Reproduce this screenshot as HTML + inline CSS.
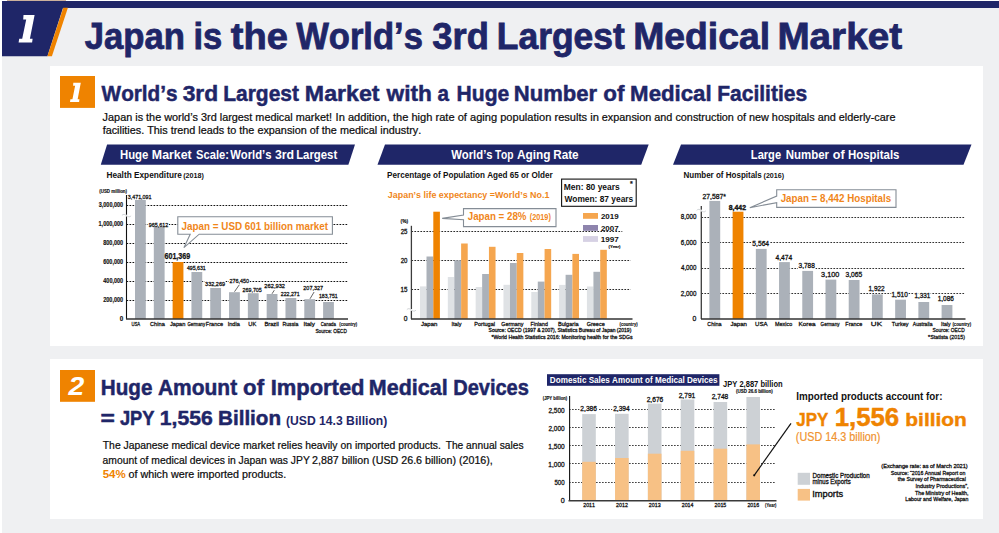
<!DOCTYPE html>
<html><head><meta charset="utf-8"><title>Japan is the World's 3rd Largest Medical Market</title>
<style>
html,body{margin:0;padding:0;background:#fff;width:999px;height:533px;overflow:hidden}
svg{display:block;font-family:"Liberation Sans", sans-serif;font-kerning:none}
</style></head><body>
<svg width="999" height="533" viewBox="0 0 999 533">
<rect x="0.00" y="0.00" width="999.00" height="533.00" fill="#ffffff"/>
<rect x="2.00" y="8.00" width="997.00" height="525.00" fill="#eff0f2"/>
<rect x="7.00" y="0.00" width="59.00" height="1.00" fill="#cbb09c"/>
<rect x="2.00" y="1.00" width="997.00" height="7.00" fill="#1f2668"/>
<polygon points="2.00,7.00 63.30,7.00 47.40,56.30 2.00,56.30" fill="#1f2668"/>
<polygon points="63.30,7.70 67.90,7.70 51.90,56.30 47.40,56.30" fill="#ef8300"/>
<polygon points="23.50,15.10 34.60,15.10 29.90,38.80 32.60,38.80 32.10,42.60 18.60,42.60 19.20,38.80 22.20,38.80 26.20,19.40 23.20,19.40" fill="#fff"/>
<text x="84.67" y="49.00" font-size="36.5" stroke="#1f2668" stroke-width="0.8" font-weight="bold" fill="#1f2668" textLength="100.28" lengthAdjust="spacingAndGlyphs">Japan</text>
<text x="193.39" y="49.00" font-size="36.5" stroke="#1f2668" stroke-width="0.8" font-weight="bold" fill="#1f2668" textLength="28.83" lengthAdjust="spacingAndGlyphs">is</text>
<text x="230.73" y="49.00" font-size="36.5" stroke="#1f2668" stroke-width="0.8" font-weight="bold" fill="#1f2668" textLength="57.17" lengthAdjust="spacingAndGlyphs">the</text>
<text x="296.17" y="49.00" font-size="36.5" stroke="#1f2668" stroke-width="0.8" font-weight="bold" fill="#1f2668" textLength="126.75" lengthAdjust="spacingAndGlyphs">World’s</text>
<text x="432.37" y="49.00" font-size="36.5" stroke="#1f2668" stroke-width="0.8" font-weight="bold" fill="#1f2668" textLength="56.53" lengthAdjust="spacingAndGlyphs">3rd</text>
<text x="496.83" y="49.00" font-size="36.5" stroke="#1f2668" stroke-width="0.8" font-weight="bold" fill="#1f2668" textLength="128.00" lengthAdjust="spacingAndGlyphs">Largest</text>
<text x="633.20" y="49.00" font-size="36.5" stroke="#1f2668" stroke-width="0.8" font-weight="bold" fill="#1f2668" textLength="136.84" lengthAdjust="spacingAndGlyphs">Medical</text>
<text x="777.41" y="49.00" font-size="36.5" stroke="#1f2668" stroke-width="0.8" font-weight="bold" fill="#1f2668" textLength="124.66" lengthAdjust="spacingAndGlyphs">Market</text>
<rect x="50.00" y="66.00" width="933.00" height="280.00" fill="#ffffff"/>
<rect x="60.00" y="76.00" width="35.00" height="31.90" fill="#ef8300"/>
<polygon points="73.31,82.80 80.80,82.80 77.63,99.35 79.45,99.35 79.11,102.00 70.00,102.00 70.41,99.35 72.43,99.35 75.13,85.80 73.11,85.80" fill="#fff"/>
<text x="101.58" y="100.50" font-size="22.3" stroke="#1f2668" stroke-width="0.5" font-weight="bold" fill="#1f2668" textLength="75.97" lengthAdjust="spacingAndGlyphs">World’s</text>
<text x="182.68" y="100.50" font-size="22.3" stroke="#1f2668" stroke-width="0.5" font-weight="bold" fill="#1f2668" textLength="35.53" lengthAdjust="spacingAndGlyphs">3rd</text>
<text x="223.20" y="100.50" font-size="22.3" stroke="#1f2668" stroke-width="0.5" font-weight="bold" fill="#1f2668" textLength="75.76" lengthAdjust="spacingAndGlyphs">Largest</text>
<text x="304.85" y="100.50" font-size="22.3" stroke="#1f2668" stroke-width="0.5" font-weight="bold" fill="#1f2668" textLength="74.73" lengthAdjust="spacingAndGlyphs">Market</text>
<text x="386.57" y="100.50" font-size="22.3" stroke="#1f2668" stroke-width="0.5" font-weight="bold" fill="#1f2668" textLength="45.34" lengthAdjust="spacingAndGlyphs">with</text>
<text x="437.40" y="100.50" font-size="22.3" stroke="#1f2668" stroke-width="0.5" font-weight="bold" fill="#1f2668" textLength="11.47" lengthAdjust="spacingAndGlyphs">a</text>
<text x="456.59" y="100.50" font-size="22.3" stroke="#1f2668" stroke-width="0.5" font-weight="bold" fill="#1f2668" textLength="52.63" lengthAdjust="spacingAndGlyphs">Huge</text>
<text x="513.83" y="100.50" font-size="22.3" stroke="#1f2668" stroke-width="0.5" font-weight="bold" fill="#1f2668" textLength="83.31" lengthAdjust="spacingAndGlyphs">Number</text>
<text x="603.23" y="100.50" font-size="22.3" stroke="#1f2668" stroke-width="0.5" font-weight="bold" fill="#1f2668" textLength="21.13" lengthAdjust="spacingAndGlyphs">of</text>
<text x="630.11" y="100.50" font-size="22.3" stroke="#1f2668" stroke-width="0.5" font-weight="bold" fill="#1f2668" textLength="81.56" lengthAdjust="spacingAndGlyphs">Medical</text>
<text x="717.19" y="100.50" font-size="22.3" stroke="#1f2668" stroke-width="0.5" font-weight="bold" fill="#1f2668" textLength="89.97" lengthAdjust="spacingAndGlyphs">Facilities</text>
<text x="102.63" y="120.90" font-size="10.8" stroke="#0d0d0d" stroke-width="0.22" fill="#0d0d0d" textLength="229.36" lengthAdjust="spacingAndGlyphs">Japan is the world’s 3rd largest medical market!</text>
<text x="335.58" y="120.90" font-size="10.8" stroke="#0d0d0d" stroke-width="0.22" fill="#0d0d0d" textLength="263.24" lengthAdjust="spacingAndGlyphs">In addition, the high rate of aging population results in</text>
<text x="601.84" y="120.90" font-size="10.8" stroke="#0d0d0d" stroke-width="0.22" fill="#0d0d0d" textLength="293.64" lengthAdjust="spacingAndGlyphs">expansion and construction of new hospitals and elderly-care</text>
<text x="102.65" y="134.40" font-size="10.8" stroke="#0d0d0d" stroke-width="0.22" fill="#0d0d0d" textLength="318.54" lengthAdjust="spacingAndGlyphs">facilities. This trend leads to the expansion of the medical industry.</text>
<polygon points="107.10,144.60 355.00,144.60 348.40,164.80 100.80,164.80" fill="#1f2668"/>
<text x="119.99" y="158.90" font-size="12.3" font-weight="bold" fill="#fff" textLength="28.40" lengthAdjust="spacingAndGlyphs">Huge</text>
<text x="151.87" y="158.90" font-size="12.3" font-weight="bold" fill="#fff" textLength="39.88" lengthAdjust="spacingAndGlyphs">Market</text>
<text x="196.08" y="158.90" font-size="12.3" font-weight="bold" fill="#fff" textLength="32.90" lengthAdjust="spacingAndGlyphs">Scale:</text>
<text x="230.19" y="158.90" font-size="12.3" font-weight="bold" fill="#fff" textLength="41.27" lengthAdjust="spacingAndGlyphs">World’s</text>
<text x="274.92" y="158.90" font-size="12.3" font-weight="bold" fill="#fff" textLength="19.20" lengthAdjust="spacingAndGlyphs">3rd</text>
<text x="296.14" y="158.90" font-size="12.3" font-weight="bold" fill="#fff" textLength="41.10" lengthAdjust="spacingAndGlyphs">Largest</text>
<polygon points="385.00,144.50 648.70,144.50 641.20,164.70 377.50,164.70" fill="#1f2668"/>
<text x="451.19" y="158.90" font-size="12.3" font-weight="bold" fill="#fff" textLength="41.37" lengthAdjust="spacingAndGlyphs">World’s</text>
<text x="494.89" y="158.90" font-size="12.3" font-weight="bold" fill="#fff" textLength="18.73" lengthAdjust="spacingAndGlyphs">Top</text>
<text x="517.00" y="158.90" font-size="12.3" font-weight="bold" fill="#fff" textLength="33.59" lengthAdjust="spacingAndGlyphs">Aging</text>
<text x="553.22" y="158.90" font-size="12.3" font-weight="bold" fill="#fff" textLength="25.38" lengthAdjust="spacingAndGlyphs">Rate</text>
<polygon points="681.00,144.40 971.50,144.40 963.50,164.70 673.00,164.70" fill="#1f2668"/>
<text x="750.86" y="158.80" font-size="12.3" font-weight="bold" fill="#fff" textLength="30.22" lengthAdjust="spacingAndGlyphs">Large</text>
<text x="785.73" y="158.80" font-size="12.3" font-weight="bold" fill="#fff" textLength="43.34" lengthAdjust="spacingAndGlyphs">Number</text>
<text x="832.71" y="158.80" font-size="12.3" font-weight="bold" fill="#fff" textLength="11.87" lengthAdjust="spacingAndGlyphs">of</text>
<text x="848.04" y="158.80" font-size="12.3" font-weight="bold" fill="#fff" textLength="51.43" lengthAdjust="spacingAndGlyphs">Hospitals</text>
<text x="106.45" y="177.80" font-size="8.8" font-weight="bold" fill="#111" textLength="75.34" lengthAdjust="spacingAndGlyphs">Health Expenditure</text>
<text x="183.14" y="177.80" font-size="7.2" font-weight="bold" fill="#111" textLength="20.71" lengthAdjust="spacingAndGlyphs">(2018)</text>
<text x="99.28" y="193.00" font-size="5.2" stroke="#111" stroke-width="0.15" font-weight="bold" fill="#111" textLength="27.74" lengthAdjust="spacingAndGlyphs">(USD million)</text>
<line x1="126.50" y1="205.50" x2="348.00" y2="205.50" stroke="#111" stroke-width="1.0" stroke-dasharray="1.7 1.3"/>
<line x1="126.50" y1="224.50" x2="348.00" y2="224.50" stroke="#111" stroke-width="1.0" stroke-dasharray="1.7 1.3"/>
<line x1="126.50" y1="243.50" x2="348.00" y2="243.50" stroke="#111" stroke-width="1.0" stroke-dasharray="1.7 1.3"/>
<line x1="126.50" y1="262.50" x2="348.00" y2="262.50" stroke="#111" stroke-width="1.0" stroke-dasharray="1.7 1.3"/>
<line x1="126.50" y1="281.50" x2="348.00" y2="281.50" stroke="#111" stroke-width="1.0" stroke-dasharray="1.7 1.3"/>
<line x1="126.50" y1="300.50" x2="348.00" y2="300.50" stroke="#111" stroke-width="1.0" stroke-dasharray="1.7 1.3"/>
<text x="98.77" y="207.20" font-size="6.6" stroke="#111" stroke-width="0.15" font-weight="bold" fill="#111" textLength="24.35" lengthAdjust="spacingAndGlyphs">3,000,000</text>
<text x="98.55" y="226.20" font-size="6.6" stroke="#111" stroke-width="0.15" font-weight="bold" fill="#111" textLength="24.57" lengthAdjust="spacingAndGlyphs">1,000,000</text>
<text x="103.23" y="245.20" font-size="6.6" stroke="#111" stroke-width="0.15" font-weight="bold" fill="#111" textLength="19.90" lengthAdjust="spacingAndGlyphs">800,000</text>
<text x="103.20" y="264.20" font-size="6.6" stroke="#111" stroke-width="0.15" font-weight="bold" fill="#111" textLength="19.93" lengthAdjust="spacingAndGlyphs">600,000</text>
<text x="103.32" y="283.20" font-size="6.6" stroke="#111" stroke-width="0.15" font-weight="bold" fill="#111" textLength="19.81" lengthAdjust="spacingAndGlyphs">400,000</text>
<text x="103.21" y="302.20" font-size="6.6" stroke="#111" stroke-width="0.15" font-weight="bold" fill="#111" textLength="19.92" lengthAdjust="spacingAndGlyphs">200,000</text>
<text x="119.65" y="321.20" font-size="6.6" stroke="#111" stroke-width="0.15" font-weight="bold" fill="#111" textLength="3.51" lengthAdjust="spacingAndGlyphs">0</text>
<rect x="135.00" y="200.00" width="10.80" height="119.00" fill="#abb1b9"/>
<rect x="153.81" y="227.00" width="10.80" height="92.00" fill="#abb1b9"/>
<rect x="172.62" y="262.00" width="10.80" height="57.00" fill="#ef8300"/>
<rect x="191.43" y="272.00" width="10.80" height="47.00" fill="#abb1b9"/>
<rect x="210.24" y="288.00" width="10.80" height="31.00" fill="#abb1b9"/>
<rect x="229.05" y="292.20" width="10.80" height="26.80" fill="#abb1b9"/>
<rect x="247.86" y="293.20" width="10.80" height="25.80" fill="#abb1b9"/>
<rect x="266.67" y="294.00" width="10.80" height="25.00" fill="#abb1b9"/>
<rect x="285.48" y="298.00" width="10.80" height="21.00" fill="#abb1b9"/>
<rect x="304.29" y="299.20" width="10.80" height="19.80" fill="#abb1b9"/>
<rect x="323.10" y="302.00" width="10.80" height="17.00" fill="#abb1b9"/>
<rect x="148.00" y="221.50" width="21.00" height="5.00" fill="#fff"/>
<rect x="228.90" y="278.60" width="20.80" height="5.00" fill="#fff"/>
<rect x="204.50" y="280.00" width="21.00" height="3.00" fill="#fff"/>
<text x="127.70" y="198.90" font-size="6.2" stroke="#111" stroke-width="0.28" fill="#111" textLength="23.87" lengthAdjust="spacingAndGlyphs">3,471,091</text>
<text x="148.65" y="227.00" font-size="6.2" stroke="#111" stroke-width="0.28" fill="#111" textLength="19.52" lengthAdjust="spacingAndGlyphs">965,612</text>
<text x="186.88" y="270.20" font-size="6.2" stroke="#111" stroke-width="0.28" fill="#111" textLength="18.87" lengthAdjust="spacingAndGlyphs">495,631</text>
<text x="205.09" y="285.60" font-size="6.2" stroke="#111" stroke-width="0.28" fill="#111" textLength="19.97" lengthAdjust="spacingAndGlyphs">332,269</text>
<text x="229.43" y="282.70" font-size="6.2" stroke="#111" stroke-width="0.28" fill="#111" textLength="19.58" lengthAdjust="spacingAndGlyphs">276,450</text>
<text x="242.53" y="291.70" font-size="6.2" stroke="#111" stroke-width="0.28" fill="#111" textLength="19.29" lengthAdjust="spacingAndGlyphs">269,705</text>
<text x="264.31" y="287.50" font-size="6.2" stroke="#111" stroke-width="0.28" fill="#111" textLength="20.78" lengthAdjust="spacingAndGlyphs">262,932</text>
<text x="280.74" y="295.50" font-size="6.2" stroke="#111" stroke-width="0.28" fill="#111" textLength="18.92" lengthAdjust="spacingAndGlyphs">222,271</text>
<text x="303.33" y="289.50" font-size="6.2" stroke="#111" stroke-width="0.28" fill="#111" textLength="19.75" lengthAdjust="spacingAndGlyphs">207,327</text>
<text x="319.01" y="297.70" font-size="6.2" stroke="#111" stroke-width="0.28" fill="#111" textLength="18.64" lengthAdjust="spacingAndGlyphs">183,751</text>
<text x="164.44" y="258.60" font-size="8.2" stroke="#111" stroke-width="0.25" font-weight="bold" fill="#111" textLength="25.83" lengthAdjust="spacingAndGlyphs">601,369</text>
<line x1="234.50" y1="291.70" x2="239.30" y2="284.80" stroke="#222" stroke-width="0.7"/>
<line x1="272.00" y1="293.80" x2="274.30" y2="290.20" stroke="#222" stroke-width="0.7"/>
<line x1="310.00" y1="298.80" x2="314.10" y2="292.00" stroke="#222" stroke-width="0.7"/>
<line x1="126.50" y1="195.00" x2="126.50" y2="319.00" stroke="#111" stroke-width="1.1"/>
<rect x="125.30" y="214.70" width="2.40" height="1.80" fill="#fff"/>
<path d="M121.90,215.40 C123.30,213.60 124.90,214.40 126.50,215.60 S129.70,217.60 131.10,215.80" stroke="#cdd0d4" stroke-width="0.9" fill="none"/>
<line x1="126.00" y1="319.00" x2="348.00" y2="319.00" stroke="#333" stroke-width="1.5"/>
<text x="131.47" y="325.80" font-size="6.0" stroke="#111" stroke-width="0.28" fill="#111" textLength="8.74" lengthAdjust="spacingAndGlyphs">USA</text>
<text x="150.01" y="325.80" font-size="6.0" stroke="#111" stroke-width="0.28" fill="#111" textLength="14.79" lengthAdjust="spacingAndGlyphs">China</text>
<text x="169.91" y="325.80" font-size="6.0" stroke="#111" stroke-width="0.28" fill="#111" textLength="15.46" lengthAdjust="spacingAndGlyphs">Japan</text>
<text x="187.38" y="325.80" font-size="6.0" stroke="#111" stroke-width="0.28" fill="#111" textLength="17.83" lengthAdjust="spacingAndGlyphs">Germany</text>
<text x="205.85" y="325.80" font-size="6.0" stroke="#111" stroke-width="0.28" fill="#111" textLength="17.20" lengthAdjust="spacingAndGlyphs">France</text>
<text x="227.68" y="325.80" font-size="6.0" stroke="#111" stroke-width="0.28" fill="#111" textLength="12.12" lengthAdjust="spacingAndGlyphs">India</text>
<text x="248.36" y="325.80" font-size="6.0" stroke="#111" stroke-width="0.28" fill="#111" textLength="8.01" lengthAdjust="spacingAndGlyphs">UK</text>
<text x="264.43" y="325.80" font-size="6.0" stroke="#111" stroke-width="0.28" fill="#111" textLength="14.35" lengthAdjust="spacingAndGlyphs">Brazil</text>
<text x="282.48" y="325.80" font-size="6.0" stroke="#111" stroke-width="0.28" fill="#111" textLength="15.82" lengthAdjust="spacingAndGlyphs">Russia</text>
<text x="303.42" y="325.80" font-size="6.0" stroke="#111" stroke-width="0.28" fill="#111" textLength="11.49" lengthAdjust="spacingAndGlyphs">Italy</text>
<text x="320.68" y="325.80" font-size="6.0" stroke="#111" stroke-width="0.28" fill="#111" textLength="15.22" lengthAdjust="spacingAndGlyphs">Canada</text>
<text x="339.29" y="325.80" font-size="5.0" stroke="#111" stroke-width="0.15" font-weight="bold" fill="#111" textLength="17.91" lengthAdjust="spacingAndGlyphs">(country)</text>
<text x="315.38" y="332.80" font-size="6.0" stroke="#111" stroke-width="0.28" fill="#111" textLength="31.65" lengthAdjust="spacingAndGlyphs">Source: OECD</text>
<path d="M177.8,216.7 H332.4 V234.2 H199.2 L183.9,247.7 L190.2,234.2 H177.8 Z" fill="#fff" stroke="#858d96" stroke-width="1.1"/>
<text x="181.55" y="229.90" font-size="11.2" font-weight="bold" fill="#f0861a" textLength="146.57" lengthAdjust="spacingAndGlyphs">Japan = USD 601 billion market</text>
<text x="387.06" y="177.60" font-size="8.8" font-weight="bold" fill="#111" textLength="165.67" lengthAdjust="spacingAndGlyphs">Percentage of Population Aged 65 or Older</text>
<text x="387.87" y="197.50" font-size="9.4" font-weight="bold" fill="#f0861a" textLength="161.48" lengthAdjust="spacingAndGlyphs">Japan’s life expectancy =World’s No.1</text>
<rect x="561.60" y="179.10" width="74.60" height="27.20" fill="#fff" stroke="#111" stroke-width="1.1"/>
<text x="563.83" y="189.50" font-size="9.0" font-weight="bold" fill="#111" textLength="55.91" lengthAdjust="spacingAndGlyphs">Men: 80 years</text>
<text x="564.39" y="201.60" font-size="9.0" font-weight="bold" fill="#111" textLength="68.85" lengthAdjust="spacingAndGlyphs">Women: 87 years</text>
<text x="630.00" y="186.00" font-size="7.0" stroke="#111" stroke-width="0.15" font-weight="bold" fill="#111">*</text>
<line x1="411.40" y1="231.50" x2="622.30" y2="231.50" stroke="#2a2a2a" stroke-width="1.0" stroke-dasharray="1.7 1.3"/>
<line x1="411.40" y1="260.50" x2="630.60" y2="260.50" stroke="#2a2a2a" stroke-width="1.0" stroke-dasharray="1.7 1.3"/>
<line x1="411.40" y1="289.50" x2="630.60" y2="289.50" stroke="#2a2a2a" stroke-width="1.0" stroke-dasharray="1.7 1.3"/>
<text x="400.69" y="233.50" font-size="6.4" stroke="#111" stroke-width="0.28" fill="#111" textLength="6.76" lengthAdjust="spacingAndGlyphs">25</text>
<text x="400.70" y="262.50" font-size="6.4" stroke="#111" stroke-width="0.28" fill="#111" textLength="6.74" lengthAdjust="spacingAndGlyphs">20</text>
<text x="400.52" y="291.90" font-size="6.4" stroke="#111" stroke-width="0.28" fill="#111" textLength="6.94" lengthAdjust="spacingAndGlyphs">15</text>
<text x="403.74" y="321.10" font-size="6.4" stroke="#111" stroke-width="0.28" fill="#111" textLength="3.72" lengthAdjust="spacingAndGlyphs">0</text>
<text x="400.56" y="223.00" font-size="5.0" stroke="#111" stroke-width="0.15" font-weight="bold" fill="#111" textLength="7.48" lengthAdjust="spacingAndGlyphs">(%)</text>
<rect x="420.00" y="286.40" width="6.50" height="32.50" fill="#dfe2e5"/>
<rect x="426.50" y="256.50" width="6.80" height="62.40" fill="#abb1b9"/>
<rect x="433.30" y="211.70" width="6.60" height="107.20" fill="#ef8300"/>
<rect x="447.82" y="277.00" width="6.50" height="41.90" fill="#dfe2e5"/>
<rect x="454.32" y="260.30" width="6.80" height="58.60" fill="#abb1b9"/>
<rect x="461.12" y="243.50" width="6.60" height="75.40" fill="#f5a64f"/>
<rect x="475.64" y="287.00" width="6.50" height="31.90" fill="#dfe2e5"/>
<rect x="482.14" y="274.00" width="6.80" height="44.90" fill="#abb1b9"/>
<rect x="488.94" y="246.80" width="6.60" height="72.10" fill="#f5a64f"/>
<rect x="503.46" y="284.80" width="6.50" height="34.10" fill="#dfe2e5"/>
<rect x="509.96" y="263.00" width="6.80" height="55.90" fill="#abb1b9"/>
<rect x="516.76" y="253.00" width="6.60" height="65.90" fill="#f5a64f"/>
<rect x="531.28" y="292.00" width="6.50" height="26.90" fill="#dfe2e5"/>
<rect x="537.78" y="281.60" width="6.80" height="37.30" fill="#abb1b9"/>
<rect x="544.58" y="249.00" width="6.60" height="69.90" fill="#f5a64f"/>
<rect x="559.10" y="284.90" width="6.50" height="34.00" fill="#dfe2e5"/>
<rect x="565.60" y="274.80" width="6.80" height="44.10" fill="#abb1b9"/>
<rect x="572.40" y="253.90" width="6.60" height="65.00" fill="#f5a64f"/>
<rect x="586.92" y="286.50" width="6.50" height="32.40" fill="#dfe2e5"/>
<rect x="593.42" y="271.80" width="6.80" height="47.10" fill="#abb1b9"/>
<rect x="600.22" y="249.80" width="6.60" height="69.10" fill="#f5a64f"/>
<line x1="411.40" y1="225.80" x2="411.40" y2="318.90" stroke="#3c3c3c" stroke-width="1.3"/>
<rect x="410.20" y="309.00" width="2.40" height="1.80" fill="#fff"/>
<path d="M406.80,309.70 C408.20,307.90 409.80,308.70 411.40,309.90 S414.60,311.90 416.00,310.10" stroke="#cdd0d4" stroke-width="0.9" fill="none"/>
<line x1="411.00" y1="318.90" x2="632.50" y2="318.90" stroke="#333" stroke-width="1.5"/>
<text x="420.91" y="325.60" font-size="6.0" stroke="#111" stroke-width="0.28" fill="#111" textLength="16.49" lengthAdjust="spacingAndGlyphs">Japan</text>
<text x="451.50" y="325.60" font-size="6.0" stroke="#111" stroke-width="0.28" fill="#111" textLength="10.01" lengthAdjust="spacingAndGlyphs">Italy</text>
<text x="474.35" y="325.60" font-size="6.0" stroke="#111" stroke-width="0.28" fill="#111" textLength="20.62" lengthAdjust="spacingAndGlyphs">Portugal</text>
<text x="501.23" y="325.60" font-size="6.0" stroke="#111" stroke-width="0.28" fill="#111" textLength="22.28" lengthAdjust="spacingAndGlyphs">Germany</text>
<text x="530.57" y="325.60" font-size="6.0" stroke="#111" stroke-width="0.28" fill="#111" textLength="17.27" lengthAdjust="spacingAndGlyphs">Finland</text>
<text x="558.04" y="325.60" font-size="6.0" stroke="#111" stroke-width="0.28" fill="#111" textLength="20.46" lengthAdjust="spacingAndGlyphs">Bulgaria</text>
<text x="586.72" y="325.60" font-size="6.0" stroke="#111" stroke-width="0.28" fill="#111" textLength="18.02" lengthAdjust="spacingAndGlyphs">Greece</text>
<text x="619.49" y="325.60" font-size="5.0" stroke="#111" stroke-width="0.15" font-weight="bold" fill="#111" textLength="18.12" lengthAdjust="spacingAndGlyphs">(country)</text>
<text x="488.57" y="332.00" font-size="5.2" stroke="#111" stroke-width="0.28" fill="#111" textLength="142.74" lengthAdjust="spacingAndGlyphs">Source: OECD (1997 &amp; 2007), Statistics Bureau of Japan (2019)</text>
<text x="491.42" y="339.30" font-size="5.2" stroke="#111" stroke-width="0.28" fill="#111" textLength="141.27" lengthAdjust="spacingAndGlyphs">*World Health Statistics 2016: Monitoring health for the SDGs</text>
<rect x="583.00" y="213.00" width="15.00" height="5.80" fill="#f5a64f"/>
<rect x="583.00" y="225.00" width="15.00" height="5.80" fill="#8e84ad"/>
<rect x="583.00" y="236.10" width="15.00" height="5.80" fill="#d6d1e4"/>
<text x="600.92" y="219.20" font-size="7.8" font-weight="bold" fill="#111" textLength="17.77" lengthAdjust="spacingAndGlyphs">2019</text>
<text x="600.92" y="230.90" font-size="7.8" font-weight="bold" fill="#111" textLength="17.83" lengthAdjust="spacingAndGlyphs">2007</text>
<text x="600.69" y="241.80" font-size="7.8" font-weight="bold" fill="#111" textLength="18.07" lengthAdjust="spacingAndGlyphs">1997</text>
<text x="608.59" y="247.50" font-size="4.2" stroke="#111" stroke-width="0.15" font-weight="bold" fill="#111" textLength="11.92" lengthAdjust="spacingAndGlyphs">(Year)</text>
<path d="M463.5,208.6 H556.0 V226.6 H463.5 V219.8 L442.2,218.4 L463.5,215.1 Z" fill="#fff" stroke="#858d96" stroke-width="1.1"/>
<text x="467.75" y="220.40" font-size="11.6" font-weight="bold" fill="#f0861a" textLength="58.70" lengthAdjust="spacingAndGlyphs">Japan = 28%</text>
<text x="529.74" y="220.40" font-size="8.6" font-weight="bold" fill="#f0861a" textLength="21.13" lengthAdjust="spacingAndGlyphs">(2019)</text>
<text x="683.46" y="177.50" font-size="8.8" font-weight="bold" fill="#111" textLength="78.36" lengthAdjust="spacingAndGlyphs">Number of Hospitals</text>
<text x="763.55" y="177.50" font-size="7.2" font-weight="bold" fill="#111" textLength="20.51" lengthAdjust="spacingAndGlyphs">(2016)</text>
<line x1="701.40" y1="217.50" x2="965.00" y2="217.50" stroke="#333" stroke-width="1.0" stroke-dasharray="1.7 1.3"/>
<line x1="701.40" y1="242.50" x2="965.00" y2="242.50" stroke="#333" stroke-width="1.0" stroke-dasharray="1.7 1.3"/>
<line x1="701.40" y1="268.50" x2="965.00" y2="268.50" stroke="#333" stroke-width="1.0" stroke-dasharray="1.7 1.3"/>
<line x1="701.40" y1="293.50" x2="965.00" y2="293.50" stroke="#333" stroke-width="1.0" stroke-dasharray="1.7 1.3"/>
<text x="680.83" y="219.40" font-size="6.7" stroke="#111" stroke-width="0.28" fill="#111" textLength="15.61" lengthAdjust="spacingAndGlyphs">8,000</text>
<text x="680.78" y="245.00" font-size="6.7" stroke="#111" stroke-width="0.28" fill="#111" textLength="15.66" lengthAdjust="spacingAndGlyphs">6,000</text>
<text x="680.96" y="270.30" font-size="6.7" stroke="#111" stroke-width="0.28" fill="#111" textLength="15.48" lengthAdjust="spacingAndGlyphs">4,000</text>
<text x="680.79" y="295.60" font-size="6.7" stroke="#111" stroke-width="0.28" fill="#111" textLength="15.66" lengthAdjust="spacingAndGlyphs">2,000</text>
<text x="692.63" y="321.20" font-size="6.7" stroke="#111" stroke-width="0.28" fill="#111" textLength="3.84" lengthAdjust="spacingAndGlyphs">0</text>
<rect x="709.40" y="200.90" width="10.80" height="118.00" fill="#abb1b9"/>
<rect x="732.62" y="211.70" width="10.80" height="107.20" fill="#ef8300"/>
<rect x="755.84" y="248.90" width="10.80" height="70.00" fill="#abb1b9"/>
<rect x="779.06" y="262.10" width="10.80" height="56.80" fill="#abb1b9"/>
<rect x="802.28" y="270.90" width="10.80" height="48.00" fill="#abb1b9"/>
<rect x="825.50" y="279.60" width="10.80" height="39.30" fill="#abb1b9"/>
<rect x="848.72" y="280.00" width="10.80" height="38.90" fill="#abb1b9"/>
<rect x="871.94" y="294.40" width="10.80" height="24.50" fill="#abb1b9"/>
<rect x="895.16" y="299.70" width="10.80" height="19.20" fill="#abb1b9"/>
<rect x="918.38" y="302.00" width="10.80" height="16.90" fill="#abb1b9"/>
<rect x="941.60" y="305.00" width="10.80" height="13.90" fill="#abb1b9"/>
<line x1="701.30" y1="206.00" x2="701.30" y2="318.90" stroke="#3c3c3c" stroke-width="1.3"/>
<rect x="700.10" y="209.70" width="2.40" height="1.80" fill="#fff"/>
<path d="M696.70,210.40 C698.10,208.60 699.70,209.40 701.30,210.60 S704.50,212.60 705.90,210.80" stroke="#cdd0d4" stroke-width="0.9" fill="none"/>
<line x1="701.00" y1="318.90" x2="965.50" y2="318.90" stroke="#333" stroke-width="1.5"/>
<rect x="751.80" y="240.50" width="17.90" height="6.20" fill="#fff"/>
<rect x="798.00" y="262.80" width="17.40" height="6.20" fill="#fff"/>
<rect x="891.20" y="291.30" width="17.10" height="6.20" fill="#fff"/>
<rect x="914.20" y="293.20" width="16.60" height="6.20" fill="#fff"/>
<text x="702.46" y="198.60" font-size="6.6" stroke="#111" stroke-width="0.28" fill="#111" textLength="23.55" lengthAdjust="spacingAndGlyphs">27,587*</text>
<text x="752.33" y="245.70" font-size="6.6" stroke="#111" stroke-width="0.28" fill="#111" textLength="16.76" lengthAdjust="spacingAndGlyphs">5,564</text>
<text x="775.55" y="259.90" font-size="6.6" stroke="#111" stroke-width="0.28" fill="#111" textLength="16.65" lengthAdjust="spacingAndGlyphs">4,474</text>
<text x="798.55" y="268.00" font-size="6.6" stroke="#111" stroke-width="0.28" fill="#111" textLength="16.33" lengthAdjust="spacingAndGlyphs">3,788</text>
<text x="821.12" y="276.70" font-size="6.6" stroke="#111" stroke-width="0.28" fill="#111" textLength="18.16" lengthAdjust="spacingAndGlyphs">3,100</text>
<text x="845.55" y="276.70" font-size="6.6" stroke="#111" stroke-width="0.28" fill="#111" textLength="16.74" lengthAdjust="spacingAndGlyphs">3,065</text>
<text x="868.51" y="291.00" font-size="6.6" stroke="#111" stroke-width="0.28" fill="#111" textLength="16.22" lengthAdjust="spacingAndGlyphs">1,922</text>
<text x="891.51" y="296.50" font-size="6.6" stroke="#111" stroke-width="0.28" fill="#111" textLength="16.25" lengthAdjust="spacingAndGlyphs">1,510</text>
<text x="914.52" y="298.40" font-size="6.6" stroke="#111" stroke-width="0.28" fill="#111" textLength="15.79" lengthAdjust="spacingAndGlyphs">1,331</text>
<text x="937.70" y="301.40" font-size="6.6" stroke="#111" stroke-width="0.28" fill="#111" textLength="16.28" lengthAdjust="spacingAndGlyphs">1,086</text>
<text x="728.78" y="209.50" font-size="7.6" stroke="#111" stroke-width="0.4" font-weight="bold" fill="#111" textLength="17.19" lengthAdjust="spacingAndGlyphs">8,442</text>
<text x="707.22" y="325.70" font-size="6.0" stroke="#111" stroke-width="0.28" fill="#111" textLength="14.28" lengthAdjust="spacingAndGlyphs">China</text>
<text x="730.41" y="325.70" font-size="6.0" stroke="#111" stroke-width="0.28" fill="#111" textLength="16.49" lengthAdjust="spacingAndGlyphs">Japan</text>
<text x="755.03" y="325.70" font-size="6.0" stroke="#111" stroke-width="0.28" fill="#111" textLength="12.48" lengthAdjust="spacingAndGlyphs">USA</text>
<text x="775.06" y="325.70" font-size="6.0" stroke="#111" stroke-width="0.28" fill="#111" textLength="17.17" lengthAdjust="spacingAndGlyphs">Mexico</text>
<text x="798.48" y="325.70" font-size="6.0" stroke="#111" stroke-width="0.28" fill="#111" textLength="17.02" lengthAdjust="spacingAndGlyphs">Korea</text>
<text x="820.57" y="325.70" font-size="6.0" stroke="#111" stroke-width="0.28" fill="#111" textLength="18.94" lengthAdjust="spacingAndGlyphs">Germany</text>
<text x="845.35" y="325.70" font-size="6.0" stroke="#111" stroke-width="0.28" fill="#111" textLength="16.89" lengthAdjust="spacingAndGlyphs">France</text>
<text x="870.88" y="325.70" font-size="6.0" stroke="#111" stroke-width="0.28" fill="#111" textLength="11.21" lengthAdjust="spacingAndGlyphs">UK</text>
<text x="891.68" y="325.70" font-size="6.0" stroke="#111" stroke-width="0.28" fill="#111" textLength="16.83" lengthAdjust="spacingAndGlyphs">Turkey</text>
<text x="912.79" y="325.70" font-size="6.0" stroke="#111" stroke-width="0.28" fill="#111" textLength="19.71" lengthAdjust="spacingAndGlyphs">Australia</text>
<text x="941.02" y="325.70" font-size="6.0" stroke="#111" stroke-width="0.28" fill="#111" textLength="9.49" lengthAdjust="spacingAndGlyphs">Italy</text>
<text x="952.38" y="325.70" font-size="5.0" stroke="#111" stroke-width="0.15" font-weight="bold" fill="#111" textLength="18.73" lengthAdjust="spacingAndGlyphs">(country)</text>
<text x="932.58" y="332.40" font-size="6.0" stroke="#111" stroke-width="0.28" fill="#111" textLength="32.25" lengthAdjust="spacingAndGlyphs">Source: OECD</text>
<text x="928.11" y="339.20" font-size="6.0" stroke="#111" stroke-width="0.28" fill="#111" textLength="36.82" lengthAdjust="spacingAndGlyphs">*Statista (2015)</text>
<path d="M776.7,189.8 H896.0 V207.4 H776.7 V202.7 L749.8,207.7 L776.7,196.1 Z" fill="#fff" stroke="#858d96" stroke-width="1.1"/>
<text x="780.65" y="201.80" font-size="11.2" font-weight="bold" fill="#f0861a" textLength="110.55" lengthAdjust="spacingAndGlyphs">Japan = 8,442 Hospitals</text>
<rect x="50.00" y="359.00" width="933.00" height="160.00" fill="#ffffff"/>
<rect x="60.00" y="370.00" width="35.00" height="31.80" fill="#ef8300"/>
<text x="68.54" y="395.00" font-size="26.5" font-weight="bold" fill="#fff" textLength="15.75" lengthAdjust="spacingAndGlyphs" style="font-style:italic">2</text>
<text x="100.82" y="395.00" font-size="22.0" stroke="#1f2668" stroke-width="0.5" font-weight="bold" fill="#1f2668" textLength="51.59" lengthAdjust="spacingAndGlyphs">Huge</text>
<text x="157.88" y="395.00" font-size="22.0" stroke="#1f2668" stroke-width="0.5" font-weight="bold" fill="#1f2668" textLength="79.28" lengthAdjust="spacingAndGlyphs">Amount</text>
<text x="243.13" y="395.00" font-size="22.0" stroke="#1f2668" stroke-width="0.5" font-weight="bold" fill="#1f2668" textLength="20.92" lengthAdjust="spacingAndGlyphs">of</text>
<text x="270.63" y="395.00" font-size="22.0" stroke="#1f2668" stroke-width="0.5" font-weight="bold" fill="#1f2668" textLength="93.92" lengthAdjust="spacingAndGlyphs">Imported</text>
<text x="368.86" y="395.00" font-size="22.0" stroke="#1f2668" stroke-width="0.5" font-weight="bold" fill="#1f2668" textLength="78.76" lengthAdjust="spacingAndGlyphs">Medical</text>
<text x="453.16" y="395.00" font-size="22.0" stroke="#1f2668" stroke-width="0.5" font-weight="bold" fill="#1f2668" textLength="75.76" lengthAdjust="spacingAndGlyphs">Devices</text>
<text x="100.58" y="425.40" font-size="21.0" stroke="#1f2668" stroke-width="0.5" font-weight="bold" fill="#1f2668" textLength="14.32" lengthAdjust="spacingAndGlyphs">=</text>
<text x="119.92" y="425.40" font-size="21.0" stroke="#1f2668" stroke-width="0.5" font-weight="bold" fill="#1f2668" textLength="34.57" lengthAdjust="spacingAndGlyphs">JPY</text>
<text x="159.77" y="425.40" font-size="21.0" stroke="#1f2668" stroke-width="0.5" font-weight="bold" fill="#1f2668" textLength="52.90" lengthAdjust="spacingAndGlyphs">1,556</text>
<text x="218.02" y="425.40" font-size="21.0" stroke="#1f2668" stroke-width="0.5" font-weight="bold" fill="#1f2668" textLength="63.06" lengthAdjust="spacingAndGlyphs">Billion</text>
<text x="285.99" y="424.90" font-size="12.2" font-weight="bold" fill="#1f2668" textLength="101.31" lengthAdjust="spacingAndGlyphs">(USD 14.3 Billion)</text>
<text x="102.77" y="448.90" font-size="10.8" stroke="#0d0d0d" stroke-width="0.22" fill="#0d0d0d" textLength="338.08" lengthAdjust="spacingAndGlyphs">The Japanese medical device market relies heavily on imported products.</text>
<text x="445.67" y="448.90" font-size="10.8" stroke="#0d0d0d" stroke-width="0.22" fill="#0d0d0d" textLength="77.90" lengthAdjust="spacingAndGlyphs">The annual sales</text>
<text x="102.56" y="463.50" font-size="10.8" stroke="#0d0d0d" stroke-width="0.22" fill="#0d0d0d" textLength="207.27" lengthAdjust="spacingAndGlyphs">amount of medical devices in Japan was JPY</text>
<text x="312.06" y="463.50" font-size="10.8" stroke="#0d0d0d" stroke-width="0.22" fill="#0d0d0d" textLength="180.80" lengthAdjust="spacingAndGlyphs">2,887 billion (USD 26.6 billion) (2016),</text>
<text x="102.65" y="477.80" font-size="10.8" font-weight="bold" fill="#ef8300" textLength="23.06" lengthAdjust="spacingAndGlyphs">54%</text>
<text x="128.55" y="477.80" font-size="10.8" stroke="#0d0d0d" stroke-width="0.22" fill="#0d0d0d" textLength="157.63" lengthAdjust="spacingAndGlyphs">of which were imported products.</text>
<rect x="547.00" y="374.20" width="172.40" height="11.60" fill="#1f2668"/>
<text x="549.86" y="382.60" font-size="8.6" font-weight="bold" fill="#fff" textLength="167.78" lengthAdjust="spacingAndGlyphs">Domestic Sales Amount of Medical Devices</text>
<text x="722.99" y="386.70" font-size="8.4" font-weight="bold" fill="#111" textLength="59.68" lengthAdjust="spacingAndGlyphs">JPY 2,887 billion</text>
<text x="735.98" y="392.80" font-size="4.8" stroke="#111" stroke-width="0.15" font-weight="bold" fill="#111" textLength="36.85" lengthAdjust="spacingAndGlyphs">(USD 26.6 billion)</text>
<text x="542.79" y="400.00" font-size="4.8" stroke="#111" stroke-width="0.15" font-weight="bold" fill="#111" textLength="24.42" lengthAdjust="spacingAndGlyphs">(JPY billion)</text>
<line x1="569.00" y1="409.50" x2="776.00" y2="409.50" stroke="#444" stroke-width="1.0" stroke-dasharray="1.7 1.3"/>
<line x1="569.00" y1="427.50" x2="776.00" y2="427.50" stroke="#444" stroke-width="1.0" stroke-dasharray="1.7 1.3"/>
<line x1="569.00" y1="445.50" x2="776.00" y2="445.50" stroke="#444" stroke-width="1.0" stroke-dasharray="1.7 1.3"/>
<line x1="569.00" y1="463.50" x2="776.00" y2="463.50" stroke="#444" stroke-width="1.0" stroke-dasharray="1.7 1.3"/>
<line x1="569.00" y1="482.50" x2="776.00" y2="482.50" stroke="#444" stroke-width="1.0" stroke-dasharray="1.7 1.3"/>
<text x="548.47" y="412.80" font-size="6.8" stroke="#111" stroke-width="0.28" fill="#111" textLength="16.18" lengthAdjust="spacingAndGlyphs">2,500</text>
<text x="548.47" y="430.70" font-size="6.8" stroke="#111" stroke-width="0.28" fill="#111" textLength="16.18" lengthAdjust="spacingAndGlyphs">2,000</text>
<text x="548.30" y="448.70" font-size="6.8" stroke="#111" stroke-width="0.28" fill="#111" textLength="16.35" lengthAdjust="spacingAndGlyphs">1,500</text>
<text x="548.30" y="467.00" font-size="6.8" stroke="#111" stroke-width="0.28" fill="#111" textLength="16.35" lengthAdjust="spacingAndGlyphs">1,000</text>
<text x="554.46" y="485.40" font-size="6.8" stroke="#111" stroke-width="0.28" fill="#111" textLength="10.18" lengthAdjust="spacingAndGlyphs">500</text>
<text x="560.72" y="503.40" font-size="6.8" stroke="#111" stroke-width="0.28" fill="#111" textLength="3.96" lengthAdjust="spacingAndGlyphs">0</text>
<rect x="582.20" y="414.10" width="13.60" height="86.10" fill="#cdd1d5"/>
<rect x="582.20" y="461.80" width="13.60" height="38.40" fill="#f7c185"/>
<text x="583.18" y="506.80" font-size="6.0" stroke="#111" stroke-width="0.28" fill="#111" textLength="11.83" lengthAdjust="spacingAndGlyphs">2011</text>
<rect x="615.04" y="413.80" width="13.60" height="86.40" fill="#cdd1d5"/>
<rect x="615.04" y="458.00" width="13.60" height="42.20" fill="#f7c185"/>
<text x="616.02" y="506.80" font-size="6.0" stroke="#111" stroke-width="0.28" fill="#111" textLength="11.84" lengthAdjust="spacingAndGlyphs">2012</text>
<rect x="647.88" y="403.60" width="13.60" height="96.60" fill="#cdd1d5"/>
<rect x="647.88" y="453.70" width="13.60" height="46.50" fill="#f7c185"/>
<text x="648.86" y="506.80" font-size="6.0" stroke="#111" stroke-width="0.28" fill="#111" textLength="11.80" lengthAdjust="spacingAndGlyphs">2013</text>
<rect x="680.72" y="399.50" width="13.60" height="100.70" fill="#cdd1d5"/>
<rect x="680.72" y="450.80" width="13.60" height="49.40" fill="#f7c185"/>
<text x="681.71" y="506.80" font-size="6.0" stroke="#111" stroke-width="0.28" fill="#111" textLength="11.72" lengthAdjust="spacingAndGlyphs">2014</text>
<rect x="713.56" y="402.00" width="13.60" height="98.20" fill="#cdd1d5"/>
<rect x="713.56" y="448.70" width="13.60" height="51.50" fill="#f7c185"/>
<text x="714.54" y="506.80" font-size="6.0" stroke="#111" stroke-width="0.28" fill="#111" textLength="11.79" lengthAdjust="spacingAndGlyphs">2015</text>
<rect x="746.40" y="397.00" width="13.60" height="103.20" fill="#cdd1d5"/>
<rect x="746.40" y="444.40" width="13.60" height="55.80" fill="#f7c185"/>
<text x="747.38" y="506.80" font-size="6.0" stroke="#111" stroke-width="0.28" fill="#111" textLength="11.80" lengthAdjust="spacingAndGlyphs">2016</text>
<rect x="579.50" y="406.50" width="19.00" height="5.00" fill="#fff"/>
<rect x="612.30" y="406.50" width="19.00" height="5.00" fill="#fff"/>
<text x="580.37" y="411.00" font-size="6.6" stroke="#111" stroke-width="0.28" fill="#111" textLength="16.63" lengthAdjust="spacingAndGlyphs">2,386</text>
<text x="613.17" y="411.00" font-size="6.6" stroke="#111" stroke-width="0.28" fill="#111" textLength="16.53" lengthAdjust="spacingAndGlyphs">2,394</text>
<text x="646.67" y="402.20" font-size="6.6" stroke="#111" stroke-width="0.28" fill="#111" textLength="16.63" lengthAdjust="spacingAndGlyphs">2,676</text>
<text x="678.67" y="397.60" font-size="6.6" stroke="#111" stroke-width="0.28" fill="#111" textLength="16.66" lengthAdjust="spacingAndGlyphs">2,791</text>
<text x="711.67" y="399.00" font-size="6.6" stroke="#111" stroke-width="0.28" fill="#111" textLength="16.62" lengthAdjust="spacingAndGlyphs">2,748</text>
<line x1="569.60" y1="396.00" x2="569.60" y2="500.20" stroke="#111" stroke-width="1.1"/>
<line x1="568.50" y1="500.70" x2="776.50" y2="500.70" stroke="#3a3a3a" stroke-width="1.5"/>
<text x="765.10" y="506.80" font-size="4.6" stroke="#111" stroke-width="0.15" font-weight="bold" fill="#111" textLength="11.30" lengthAdjust="spacingAndGlyphs">(Year)</text>
<line x1="754.20" y1="475.30" x2="791.00" y2="423.30" stroke="#111" stroke-width="1.2"/>
<circle cx="754.2" cy="475.3" r="1.1" fill="#111"/>
<text x="796.34" y="400.00" font-size="10.0" font-weight="bold" fill="#111" textLength="146.10" lengthAdjust="spacingAndGlyphs">Imported products account for:</text>
<text x="796.24" y="426.40" font-size="18.8" stroke="#ef8300" stroke-width="0.4" font-weight="bold" fill="#ef8300" textLength="32.03" lengthAdjust="spacingAndGlyphs">JPY</text>
<text x="834.68" y="426.40" font-size="26.0" stroke="#ef8300" stroke-width="0.5" font-weight="bold" fill="#ef8300" textLength="64.56" lengthAdjust="spacingAndGlyphs">1,556</text>
<text x="905.32" y="426.40" font-size="18.8" stroke="#ef8300" stroke-width="0.4" font-weight="bold" fill="#ef8300" textLength="61.58" lengthAdjust="spacingAndGlyphs">billion</text>
<text x="795.83" y="441.20" font-size="12.2" stroke="#f0922e" stroke-width="0.2" fill="#f0922e" textLength="84.64" lengthAdjust="spacingAndGlyphs">(USD 14.3 billion)</text>
<rect x="797.70" y="472.80" width="12.30" height="12.00" fill="#cdd1d5"/>
<rect x="797.70" y="488.90" width="12.30" height="11.70" fill="#f7c185"/>
<text x="812.49" y="478.00" font-size="6.8" stroke="#111" stroke-width="0.3" fill="#111" textLength="57.21" lengthAdjust="spacingAndGlyphs">Domestic Production</text>
<text x="812.60" y="484.00" font-size="6.8" stroke="#111" stroke-width="0.3" fill="#111" textLength="38.12" lengthAdjust="spacingAndGlyphs">minus Exports</text>
<text x="812.24" y="497.40" font-size="9.2" stroke="#111" stroke-width="0.35" fill="#111" textLength="30.89" lengthAdjust="spacingAndGlyphs">Imports</text>
<text x="881.35" y="468.00" font-size="5.6" stroke="#111" stroke-width="0.28" fill="#111" textLength="86.40" lengthAdjust="spacingAndGlyphs">(Exchange rate: as of March 2021)</text>
<text x="890.66" y="474.80" font-size="5.6" stroke="#111" stroke-width="0.28" fill="#111" textLength="74.67" lengthAdjust="spacingAndGlyphs">Source: “2016 Annual Report on</text>
<text x="897.72" y="481.00" font-size="5.6" stroke="#111" stroke-width="0.28" fill="#111" textLength="68.13" lengthAdjust="spacingAndGlyphs">the Survey of Pharmaceutical</text>
<text x="915.40" y="487.80" font-size="5.6" stroke="#111" stroke-width="0.28" fill="#111" textLength="53.20" lengthAdjust="spacingAndGlyphs">Industry Productions”,</text>
<text x="914.88" y="494.60" font-size="5.6" stroke="#111" stroke-width="0.28" fill="#111" textLength="53.70" lengthAdjust="spacingAndGlyphs">The Ministry of Health,</text>
<text x="905.27" y="500.90" font-size="5.6" stroke="#111" stroke-width="0.28" fill="#111" textLength="63.17" lengthAdjust="spacingAndGlyphs">Labour and Welfare, Japan</text>
</svg>
</body></html>
